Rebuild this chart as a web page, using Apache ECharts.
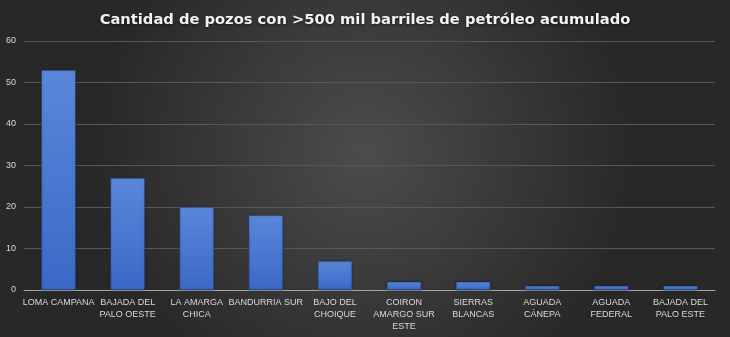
<!DOCTYPE html>
<html>
<head>
<meta charset="utf-8">
<script src="https://cdn.jsdelivr.net/npm/echarts@6/dist/echarts.min.js"></script>
<style>
html,body{margin:0;padding:0;}
#main{width:730px;height:337px;}
</style>
</head>
<body>
<div id="main"></div>
<script>
// datos del grafico
var yacimientos = ["LOMA CAMPANA", "BAJADA DEL PALO OESTE", "LA AMARGA CHICA", "BANDURRIA SUR", "BAJO DEL CHOIQUE",
    "COIRON AMARGO SUR ESTE", "SIERRAS BLANCAS", "AGUADA CÁNEPA", "AGUADA FEDERAL", "BAJADA DEL PALO ESTE"];
var pozos = [53, 27, 20, 18, 7, 2, 2, 1, 1, 1];
var ticksY = [0, 10, 20, 30, 40, 50, 60];

// cortes de linea de las etiquetas (como en el original)
var cortes = {
    "BAJADA DEL PALO OESTE": "BAJADA DEL\nPALO OESTE",
    "LA AMARGA CHICA": "LA AMARGA\nCHICA",
    "BAJO DEL CHOIQUE": "BAJO DEL\nCHOIQUE",
    "COIRON AMARGO SUR ESTE": "COIRON\nAMARGO SUR\nESTE",
    "SIERRAS BLANCAS": "SIERRAS\nBLANCAS",
    "AGUADA CÁNEPA": "AGUADA\nCÁNEPA",
    "AGUADA FEDERAL": "AGUADA\nFEDERAL",
    "BAJADA DEL PALO ESTE": "BAJADA DEL\nPALO ESTE"
};

var myChart = echarts.init(document.getElementById("main"));

var option = {
    backgroundColor: "#333",
    graphic: [{
        type: "rect",
        z: -10,
        silent: true,
        shape: {x: 0, y: 0, width: 730, height: 337},
        style: {
            fill: new echarts.graphic.RadialGradient(0.5, 0.45, 0.8, [
                {offset: 0, color: "#4c4c4c"},
                {offset: 1, color: "#282828"}
            ])
        }
    }],
    title: {
        text: "Cantidad de pozos con >500 mil barriles de petróleo acumulado",
        left: "center",
        top: 8,
        textStyle: {
            color: "#f2f2f2",
            fontFamily: "DejaVu Sans",
            fontWeight: "bold",
            fontSize: 14.7,
            textShadowColor: "rgba(0,0,0,0.6)",
            textShadowBlur: 3,
            textShadowOffsetY: 1
        }
    },
    grid: {left: 24, right: 15, top: 41, bottom: 47, containLabel: false},
    xAxis: {
        type: "category",
        data: yacimientos,
        axisTick: {show: false},
        axisLine: {lineStyle: {color: "#a6a6a6", width: 1}},
        axisLabel: {
            interval: 0,
            color: "#d9d9d9",
            fontFamily: "Liberation Sans",
            fontSize: 9,
            lineHeight: 12,
            margin: 7,
            formatter: function(v){
                return cortes[v] || v;
            }
        }
    },
    yAxis: {
        type: "value",
        min: ticksY[0],
        max: ticksY[ticksY.length - 1],
        interval: 10,
        axisLine: {show: false},
        axisTick: {show: false},
        splitLine: {lineStyle: {color: "#575757", width: 1}},
        axisLabel: {
            color: "#d9d9d9",
            fontFamily: "Liberation Sans",
            fontSize: 9,
            margin: 8
        }
    },
    series: [{
        type: "bar",
        name: "Pozos",
        data: pozos,
        barCategoryGap: "50%",
        itemStyle: {
            color: new echarts.graphic.LinearGradient(0, 0, 0, 1, [
                {offset: 0, color: "#5b87da"},
                {offset: 1, color: "#3a69c6"}
            ]),
            borderColor: "rgba(30,50,90,0.6)",
            borderWidth: 0.5,
            shadowColor: "rgba(0,0,0,0.4)",
            shadowBlur: 3
        }
    }]
};

myChart.setOption(option);
</script>
</body>
</html>
